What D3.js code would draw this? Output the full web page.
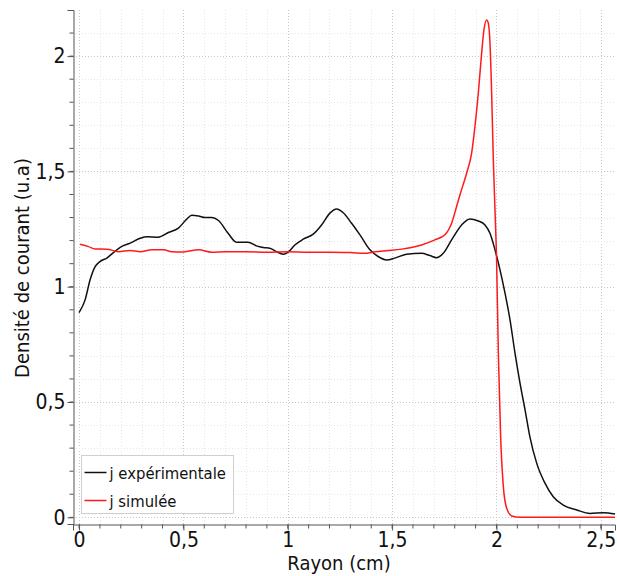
<!DOCTYPE html>
<html>
<head>
<meta charset="utf-8">
<script src="https://cdn.jsdelivr.net/npm/d3@7"></script>
<style>
  html, body { margin: 0; padding: 0; background: #fff; }
  svg text { font-family: "DejaVu Sans Condensed", "DejaVu Sans", sans-serif; fill: #111; }
</style>
</head>
<body>
<div id="chart"></div>
<script>
// rayon (cm) / densite, courbe experimentale
var expX = [0, 0.029, 0.053, 0.077, 0.10, 0.133, 0.165, 0.197, 0.245, 0.293, 0.325, 0.38, 0.428, 0.476,
    0.516, 0.54, 0.572, 0.604, 0.636, 0.668, 0.714, 0.754, 0.81, 0.85, 0.882, 0.914, 0.946, 0.978, 1.002,
    1.034, 1.074, 1.122, 1.162, 1.202, 1.234, 1.266, 1.306, 1.346, 1.394, 1.433, 1.474, 1.513, 1.569, 1.641,
    1.681, 1.713, 1.745, 1.785, 1.833, 1.873, 1.913, 1.945, 1.969, 1.993, 2.017, 2.041, 2.065, 2.089, 2.113,
    2.137, 2.16, 2.193, 2.233, 2.272, 2.32, 2.385, 2.448, 2.512, 2.568];
var expY = [0.888, 0.943, 1.03, 1.087, 1.109, 1.124, 1.148, 1.171, 1.189, 1.21, 1.217, 1.215, 1.235, 1.254,
    1.293, 1.31, 1.307, 1.30, 1.30, 1.287, 1.232, 1.193, 1.193, 1.177, 1.17, 1.167, 1.152, 1.141, 1.15,
    1.181, 1.206, 1.228, 1.268, 1.319, 1.337, 1.321, 1.275, 1.225, 1.16, 1.131, 1.116, 1.124, 1.141, 1.145,
    1.135, 1.126, 1.145, 1.203, 1.268, 1.294, 1.285, 1.268, 1.232, 1.16, 1.073, 0.972, 0.856, 0.711, 0.581,
    0.466, 0.35, 0.234, 0.147, 0.089, 0.053, 0.032, 0.017, 0.020, 0.014];

// courbe simulee
var simX = [0.005, 0.045, 0.077, 0.133, 0.189, 0.245, 0.293, 0.349, 0.405, 0.444, 0.5, 0.572, 0.636, 0.7,
    0.8, 0.9, 1.0, 1.1, 1.2, 1.3, 1.37, 1.418, 1.481, 1.546, 1.593, 1.641, 1.705, 1.753, 1.785, 1.809, 1.825,
    1.857, 1.881, 1.897, 1.913, 1.929, 1.94, 1.953, 1.961, 1.969, 1.977, 1.985, 1.993, 2.001, 2.009, 2.02,
    2.033, 2.049, 2.073, 2.113, 2.3, 2.568];
var simY = [1.184, 1.174, 1.164, 1.163, 1.152, 1.157, 1.152, 1.16, 1.16, 1.152, 1.151, 1.16, 1.15, 1.152,
    1.152, 1.15, 1.152, 1.15, 1.15, 1.148, 1.145, 1.152, 1.157, 1.163, 1.17, 1.181, 1.203, 1.225, 1.275, 1.348,
    1.398, 1.492, 1.579, 1.695, 1.839, 2.013, 2.114, 2.157, 2.143, 2.056, 1.839, 1.55, 1.333, 1.102, 0.711,
    0.35, 0.133, 0.039, 0.006, 0, 0, 0];

var xTicks = [0, 0.5, 1, 1.5, 2, 2.5];
var yTicks = [0, 0.5, 1, 1.5, 2];
var seriesNames = ['j expérimentale', 'j simulée'];

var width = 617, height = 576;
var plot = {left: 73, right: 615, top: 10, bottom: 524};

var svg = d3.select('#chart').append('svg')
    .attr('width', width)
    .attr('height', height);

var xScale = d3.scaleLinear().domain([-0.029, 2.568]).range([plot.left, plot.right]);
var yScale = d3.scaleLinear().domain([-0.029, 2.2]).range([plot.bottom, plot.top]);

var fmt = function(d) { return String(d).replace('.', ','); };

// grille mineure / majeure
var xMinor = d3.range(0, 26).map(function(i) { return i / 10; });
var yMinor = d3.range(0, 22).map(function(i) { return i / 10; });

var grid = svg.append('g');
grid.selectAll('.vminor').data(xMinor).enter().append('line')
    .attr('x1', function(d) { return Math.round(xScale(d)) + 0.5; })
    .attr('x2', function(d) { return Math.round(xScale(d)) + 0.5; })
    .attr('y1', plot.top).attr('y2', plot.bottom)
    .attr('stroke', function(d) { return xTicks.indexOf(+d.toFixed(1)) >= 0 ? '#c8c8c8' : '#e6e6e6'; })
    .attr('stroke-dasharray', '1,2');
grid.selectAll('.hminor').data(yMinor).enter().append('line')
    .attr('y1', function(d) { return Math.round(yScale(d)) + 0.5; })
    .attr('y2', function(d) { return Math.round(yScale(d)) + 0.5; })
    .attr('x1', plot.left).attr('x2', plot.right)
    .attr('stroke', function(d) { return yTicks.indexOf(+d.toFixed(1)) >= 0 ? '#c8c8c8' : '#e6e6e6'; })
    .attr('stroke-dasharray', '1,2');

// axes
var xAxis = d3.axisBottom(xScale).tickValues(xTicks).tickFormat(fmt).tickSize(6).tickPadding(2);
var yAxis = d3.axisLeft(yScale).tickValues(yTicks).tickFormat(fmt).tickSize(6).tickPadding(2);

var gx = svg.append('g').attr('transform', 'translate(0,' + (plot.bottom + 0.5) + ')').call(xAxis);
var gy = svg.append('g').attr('transform', 'translate(' + (plot.left + 0.5) + ',0)').call(yAxis);

// ticks mineurs
gx.selectAll('.minor').data(xMinor).enter().append('line')
    .attr('x1', function(d) { return xScale(d); })
    .attr('x2', function(d) { return xScale(d); })
    .attr('y1', 0).attr('y2', 4).attr('stroke', '#555');
gy.selectAll('.minor').data(yMinor).enter().append('line')
    .attr('y1', function(d) { return yScale(d); })
    .attr('y2', function(d) { return yScale(d); })
    .attr('x1', 0).attr('x2', -4).attr('stroke', '#555');

[gx, gy].forEach(function(g) {
    g.select('.domain').attr('stroke', '#555');
    g.selectAll('.tick line').attr('stroke', '#555');
    g.selectAll('.tick text').style('font-size', '21px').attr('fill', '#111');
});

// courbes
var line = d3.line()
    .x(function(d) { return xScale(d[0]); })
    .y(function(d) { return yScale(d[1]); })
    .curve(d3.curveMonotoneX);

var expData = d3.zip(expX, expY);
var simData = d3.zip(simX, simY);

svg.append('path').datum(expData)
    .attr('d', line).attr('fill', 'none')
    .attr('stroke', '#111').attr('stroke-width', 1.5);
svg.append('path').datum(simData)
    .attr('d', line).attr('fill', 'none')
    .attr('stroke', '#ff1a1a').attr('stroke-width', 1.5);

// titres des axes
svg.append('text')
    .attr('x', 339).attr('y', 570)
    .attr('text-anchor', 'middle')
    .style('font-size', '20px')
    .text('Rayon (cm)');
svg.append('text')
    .attr('transform', 'translate(29,' + 268 + ') rotate(-90)')
    .attr('text-anchor', 'middle')
    .style('font-size', '20px')
    .text('Densité de courant (u.a)');

// legende
var legend = svg.append('g').attr('transform', 'translate(81.5,455.5)');
legend.append('rect')
    .attr('width', 152).attr('height', 58)
    .attr('fill', '#fff').attr('stroke', '#cfcfcf');
var colors = ['#111', '#ff1a1a'];
var rows = legend.selectAll('.row').data(seriesNames).enter().append('g')
    .attr('transform', function(d, i) { return 'translate(0,' + (17 + i * 28) + ')'; });
rows.append('line')
    .attr('x1', 3).attr('x2', 25).attr('y1', 0).attr('y2', 0)
    .attr('stroke', function(d, i) { return colors[i]; }).attr('stroke-width', 1.5);
rows.append('text')
    .attr('x', 28).attr('y', 6)
    .style('font-size', '16.5px')
    .text(function(d) { return d; });
</script>
</body>
</html>
